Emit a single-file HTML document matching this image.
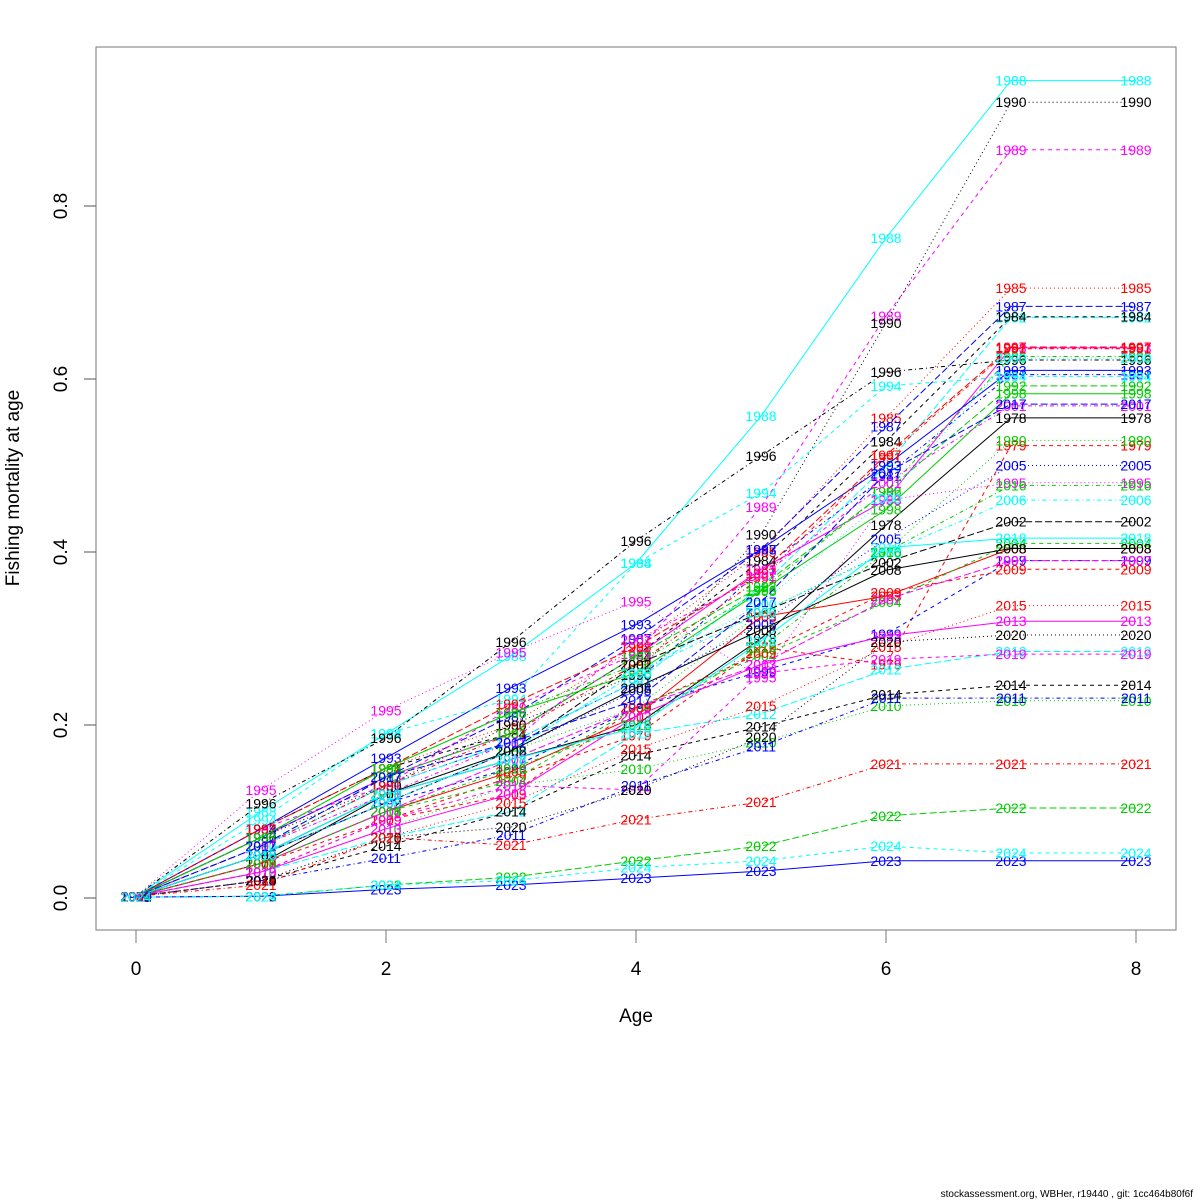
<!DOCTYPE html>
<html><head><meta charset="utf-8"><style>
html,body{margin:0;padding:0;background:#fff;}
svg{display:block;font-family:"Liberation Sans",sans-serif;}
</style></head><body>
<svg id="chart" width="1200" height="1200" viewBox="0 0 1200 1200" xmlns="http://www.w3.org/2000/svg">
<rect x="0" y="0" width="1200" height="1200" fill="#fff"/>
<g id="series"></g>
<rect x="96" y="47" width="1080" height="883" fill="none" stroke="#777" stroke-width="1"/>
<g id="axes"></g>
<text x="636" y="1022" font-size="19" text-anchor="middle">Age</text>
<text transform="translate(19,488) rotate(-90)" font-size="19" text-anchor="middle">Fishing mortality at age</text>
<text x="1193" y="1197" font-size="10" text-anchor="end">stockassessment.org, WBHer, r19440 , git: 1cc464b80f6f</text>
</svg>
<script>
const ages = [0,1,2,3,4,5,6,7,8];
const years = [1978,1979,1980,1981,1982,1983,1984,1985,1986,1987,1988,1989,1990,1991,1992,1993,1994,1995,1996,1997,1998,1999,2000,2001,2002,2003,2004,2005,2006,2007,2008,2009,2010,2011,2012,2013,2014,2015,2016,2017,2018,2019,2020,2021,2022,2023,2024];
const fValues = [
[0.002,0.04,0.12,0.16,0.20,0.30,0.431,0.555,0.555],
[0.002,0.03,0.09,0.14,0.188,0.29,0.27,0.523,0.523],
[0.002,0.05,0.12,0.17,0.22,0.33,0.40,0.529,0.529],
[0.002,0.06,0.13,0.18,0.25,0.38,0.488,0.605,0.605],
[0.002,0.06,0.13,0.18,0.25,0.36,0.50,0.671,0.671],
[0.002,0.07,0.14,0.19,0.28,0.38,0.46,0.636,0.636],
[0.002,0.08,0.15,0.19,0.28,0.39,0.528,0.672,0.672],
[0.002,0.07,0.15,0.20,0.29,0.40,0.555,0.705,0.705],
[0.002,0.07,0.15,0.214,0.27,0.356,0.47,0.626,0.626],
[0.002,0.07,0.14,0.21,0.30,0.403,0.545,0.684,0.684],
[0.002,0.10,0.19,0.28,0.387,0.557,0.763,0.945,0.945],
[0.002,0.08,0.13,0.22,0.282,0.452,0.673,0.865,0.865],
[0.002,0.07,0.13,0.20,0.258,0.42,0.665,0.92,0.92],
[0.002,0.06,0.13,0.19,0.27,0.37,0.509,0.635,0.635],
[0.002,0.06,0.14,0.19,0.28,0.36,0.47,0.592,0.592],
[0.002,0.08,0.162,0.243,0.316,0.403,0.50,0.61,0.61],
[0.002,0.09,0.19,0.23,0.387,0.468,0.592,0.603,0.603],
[0.002,0.125,0.217,0.284,0.343,0.255,0.46,0.48,0.48],
[0.002,0.109,0.185,0.296,0.413,0.511,0.608,0.622,0.622],
[0.002,0.08,0.15,0.224,0.29,0.376,0.512,0.637,0.637],
[0.002,0.07,0.15,0.214,0.26,0.355,0.449,0.583,0.583],
[0.002,0.05,0.11,0.15,0.22,0.262,0.305,0.39,0.39],
[0.002,0.06,0.12,0.17,0.26,0.34,0.462,0.624,0.624],
[0.002,0.06,0.12,0.18,0.298,0.372,0.48,0.569,0.569],
[0.002,0.05,0.11,0.17,0.27,0.33,0.388,0.435,0.435],
[0.002,0.04,0.10,0.146,0.21,0.325,0.349,0.404,0.404],
[0.002,0.04,0.10,0.135,0.22,0.28,0.342,0.41,0.41],
[0.002,0.05,0.11,0.17,0.24,0.317,0.415,0.50,0.50],
[0.002,0.05,0.11,0.17,0.26,0.33,0.399,0.46,0.46],
[0.002,0.04,0.10,0.16,0.22,0.27,0.345,0.39,0.39],
[0.002,0.05,0.12,0.17,0.243,0.31,0.379,0.404,0.404],
[0.002,0.04,0.09,0.12,0.22,0.283,0.353,0.38,0.38],
[0.002,0.03,0.08,0.13,0.149,0.18,0.222,0.228,0.228],
[0.002,0.02,0.046,0.073,0.13,0.175,0.231,0.231,0.231],
[0.002,0.03,0.07,0.10,0.19,0.213,0.264,0.285,0.285],
[0.002,0.03,0.08,0.12,0.21,0.27,0.303,0.32,0.32],
[0.002,0.02,0.06,0.10,0.165,0.198,0.235,0.246,0.246],
[0.002,0.02,0.07,0.11,0.172,0.222,0.29,0.338,0.338],
[0.002,0.04,0.10,0.15,0.20,0.29,0.40,0.477,0.477],
[0.002,0.06,0.14,0.18,0.229,0.342,0.491,0.571,0.571],
[0.002,0.05,0.12,0.16,0.197,0.297,0.405,0.416,0.416],
[0.002,0.03,0.09,0.13,0.125,0.26,0.276,0.282,0.282],
[0.002,0.02,0.07,0.082,0.125,0.186,0.296,0.304,0.304],
[0.002,0.015,0.07,0.061,0.091,0.111,0.155,0.155,0.155],
[0.001,0.002,0.015,0.024,0.043,0.06,0.095,0.104,0.104],
[0.001,0.002,0.01,0.015,0.023,0.031,0.043,0.043,0.043],
[0.001,0.002,0.015,0.02,0.035,0.043,0.06,0.052,0.052]
];
const xTicks = [0,2,4,6,8];
const yTicks = [0,0.2,0.4,0.6,0.8];
const yTickLabels = ["0.0","0.2","0.4","0.6","0.8"];
const palette = ["#000000","#ff0000","#00cd00","#0000ff","#00ffff","#ff00ff"];
const dashes = ["","4 4","1 3","1 3 4 3","7 3"];

const NS = "http://www.w3.org/2000/svg";
function xs(a){ return 136 + a*125; }
function ys(v){ return 898 - v*865; }

const sg = document.getElementById('series');
years.forEach((yr,i)=>{
  const col = palette[i%6], dash = dashes[i%5];
  const g = document.createElementNS(NS,'g');
  
  
  const pl = document.createElementNS(NS,'polyline');
  
  
  pl.setAttribute('points', ages.map((a,j)=>xs(a)+','+ys(fValues[i][j])).join(' '));
  pl.setAttribute('fill','none');
  pl.setAttribute('stroke',col);
  pl.setAttribute('stroke-width','1');
  if(dash) pl.setAttribute('stroke-dasharray',dash);
  g.appendChild(pl);
  ages.forEach((a,j)=>{
    const t = document.createElementNS(NS,'text');
    
    
    t.setAttribute('x', xs(a));
    t.setAttribute('y', ys(fValues[i][j])+5);
    t.setAttribute('text-anchor','middle');
    t.setAttribute('font-size','14');
    t.setAttribute('fill',col);
    t.textContent = yr;
    g.appendChild(t);
  });
  sg.appendChild(g);
});

const ax = document.getElementById('axes');
xTicks.forEach(v=>{
  const l = document.createElementNS(NS,'line');
  
  
  l.setAttribute('x1',xs(v)); l.setAttribute('x2',xs(v));
  l.setAttribute('y1',930); l.setAttribute('y2',943);
  l.setAttribute('stroke','#777');
  ax.appendChild(l);
  const t = document.createElementNS(NS,'text');
  
  
  t.setAttribute('x',xs(v)); t.setAttribute('y',975);
  t.setAttribute('text-anchor','middle'); t.setAttribute('font-size','19');
  t.textContent = v;
  ax.appendChild(t);
});
yTicks.forEach((v,k)=>{
  const l = document.createElementNS(NS,'line');
  
  
  l.setAttribute('x1',84); l.setAttribute('x2',96);
  l.setAttribute('y1',ys(v)); l.setAttribute('y2',ys(v));
  l.setAttribute('stroke','#555');
  ax.appendChild(l);
  const t = document.createElementNS(NS,'text');
  
  
  t.setAttribute('transform','translate(67,'+ys(v)+') rotate(-90)');
  t.setAttribute('text-anchor','middle'); t.setAttribute('font-size','19');
  t.textContent = yTickLabels[k];
  ax.appendChild(t);
});
</script>
</body></html>
